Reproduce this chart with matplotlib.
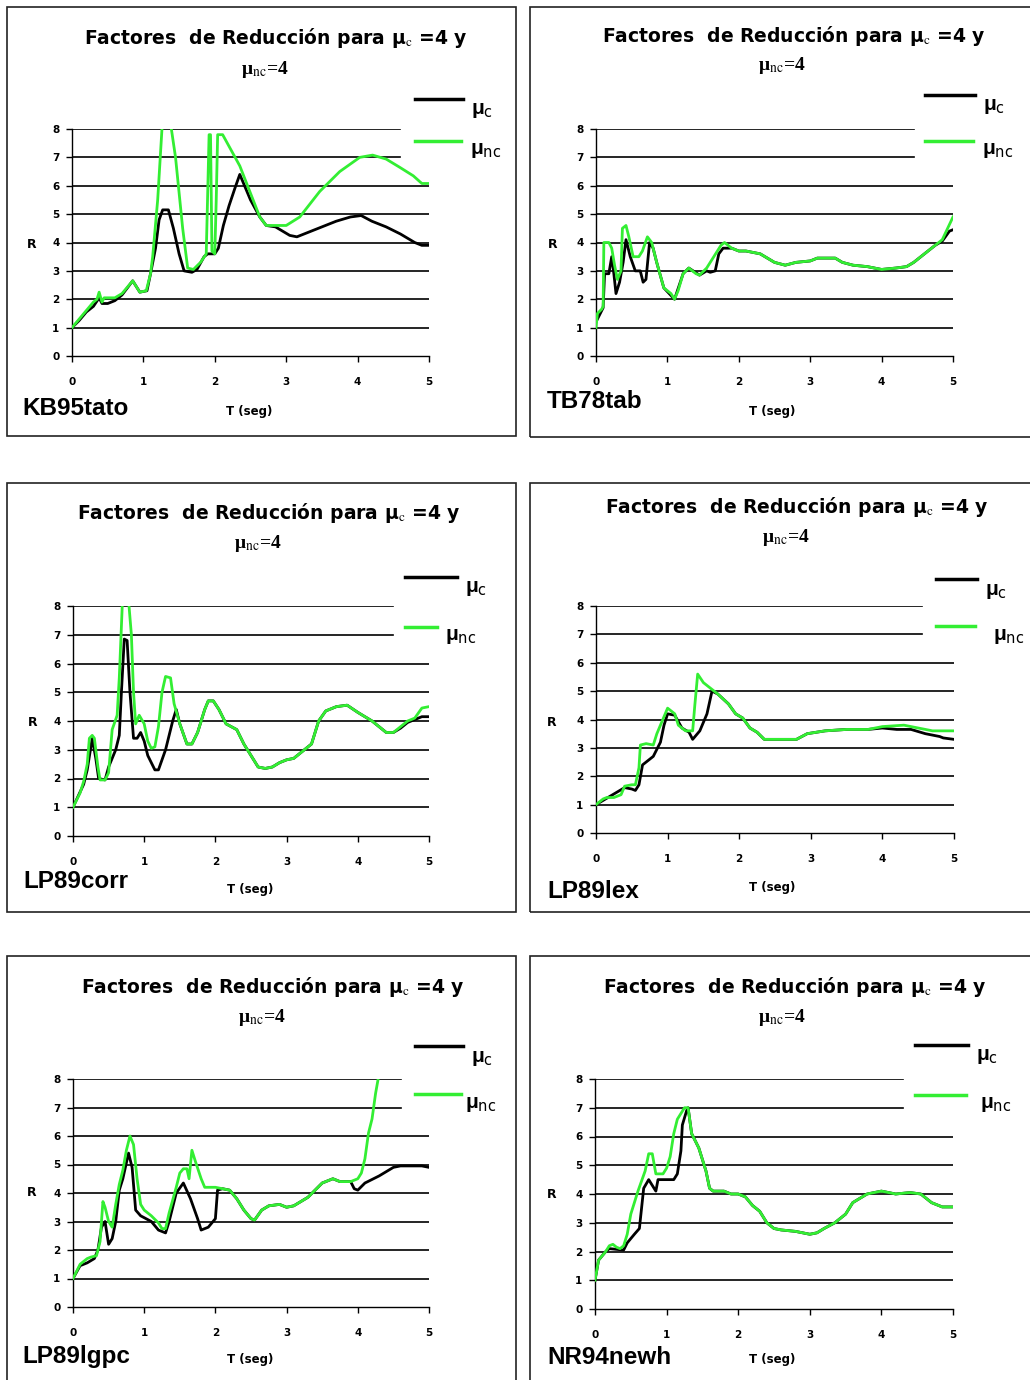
import matplotlib
matplotlib.use("Agg")
import matplotlib.pyplot as plt
from matplotlib.lines import Line2D
from matplotlib.patches import Rectangle

plt.rcParams['font.family'] = ['Liberation Sans', 'DejaVu Sans']

# ---------------- data (T in seg, R) ----------------
names = ['KB95tato', 'TB78tab', 'LP89corr', 'LP89lex', 'LP89lgpc', 'NR94newh']

# KB95tato
kb_t_nc = [0, 0.1, 0.2, 0.3, 0.35, 0.38, 0.42, 0.45, 0.6, 0.7, 0.85, 0.95, 1.04, 1.1, 1.13, 1.2, 1.26, 1.32,
           1.38, 1.45, 1.55, 1.62, 1.7, 1.8, 1.88, 1.92, 1.94, 1.96, 2.0, 2.02, 2.04, 2.11, 2.35, 2.63, 2.72,
           3.0, 3.19, 3.47, 3.75, 4.03, 4.21, 4.4, 4.59, 4.78, 4.9, 5.0]
kb_r_nc = [1, 1.3, 1.6, 1.9, 2.0, 2.25, 1.9, 2.05, 2.05, 2.2, 2.65, 2.25, 2.3, 2.9, 3.5, 5.5, 8.0, 9.0,
           8.2, 7.0, 4.5, 3.1, 3.05, 3.3, 3.6, 7.8, 7.8, 3.7, 3.6, 5.5, 7.8, 7.8, 6.7, 4.9, 4.6,
           4.6, 4.9, 5.8, 6.5, 7.0, 7.08, 6.94, 6.65, 6.35, 6.08, 6.08]
kb_t_c = [0, 0.1, 0.2, 0.3, 0.38, 0.42, 0.5, 0.6, 0.7, 0.85, 0.95, 1.05, 1.1, 1.17, 1.22, 1.27, 1.35, 1.42,
          1.5, 1.57, 1.68, 1.75, 1.85, 1.9, 2.0, 2.05, 2.12, 2.2, 2.28, 2.35, 2.5, 2.63, 2.72, 2.85, 2.95,
          3.05, 3.15, 3.3, 3.5, 3.7, 3.9, 4.05, 4.2, 4.4, 4.6, 4.8, 4.9, 5.0]
kb_r_c = [1, 1.25, 1.55, 1.75, 2.05, 1.85, 1.85, 1.95, 2.15, 2.65, 2.25, 2.3, 2.9, 3.8, 4.8, 5.15, 5.15, 4.5,
          3.6, 3.0, 2.95, 3.05, 3.5, 3.6, 3.6, 3.8, 4.6, 5.3, 5.9, 6.4, 5.5, 4.9, 4.6, 4.55, 4.4,
          4.25, 4.2, 4.35, 4.55, 4.75, 4.9, 4.95, 4.75, 4.55, 4.3, 4.0, 3.9, 3.9]

# TB78tab
tb_t_nc = [0, 0.02, 0.08, 0.1, 0.11, 0.18, 0.22, 0.26, 0.3, 0.35, 0.37, 0.42, 0.46, 0.52, 0.6, 0.65, 0.72,
           0.78, 0.85, 0.95, 1.05, 1.1, 1.15, 1.22, 1.3, 1.4, 1.45, 1.55, 1.65, 1.75, 1.8, 1.9, 2.0, 2.1,
           2.2, 2.3, 2.5, 2.65, 2.8, 3.0, 3.1, 3.35, 3.45, 3.6, 3.8, 4.0, 4.2, 4.35, 4.45, 4.6, 4.75,
           4.85, 5.0]
tb_r_nc = [1.0, 1.5, 1.65, 1.75, 4.0, 4.0, 3.8, 3.2, 2.7, 3.0, 4.5, 4.6, 4.2, 3.5, 3.5, 3.7, 4.2,
           4.0, 3.3, 2.4, 2.2, 2.0, 2.3, 2.9, 3.1, 2.9, 2.85, 3.1, 3.5, 3.9, 4.0, 3.8, 3.7, 3.7,
           3.65, 3.6, 3.3, 3.2, 3.3, 3.35, 3.45, 3.45, 3.3, 3.2, 3.15, 3.05, 3.1, 3.15, 3.3, 3.6, 3.9,
           4.1, 4.9]
tb_t_c = [0, 0.1, 0.12, 0.18, 0.22, 0.25, 0.28, 0.33, 0.38, 0.42, 0.48, 0.55, 0.62, 0.66, 0.7, 0.75, 0.8,
          0.85, 0.95, 1.1, 1.22, 1.3, 1.45, 1.55, 1.6, 1.67, 1.72, 1.78, 1.9, 2.0, 2.1, 2.2, 2.3, 2.5,
          2.65, 2.8, 3.0, 3.1, 3.35, 3.45, 3.6, 3.8, 4.0, 4.2, 4.35, 4.45, 4.6, 4.75, 4.85, 4.95, 5.0]
tb_r_c = [1.2, 1.7, 2.9, 2.9, 3.5, 2.9, 2.2, 2.6, 3.3, 4.1, 3.5, 3.0, 3.0, 2.6, 2.7, 4.0, 3.8,
          3.3, 2.4, 2.0, 2.9, 3.1, 2.85, 3.0, 2.95, 3.0, 3.6, 3.8, 3.8, 3.7, 3.7, 3.65, 3.6, 3.3,
          3.2, 3.3, 3.35, 3.45, 3.45, 3.3, 3.2, 3.15, 3.05, 3.1, 3.15, 3.3, 3.6, 3.9, 4.05, 4.4, 4.45]

# LP89corr
co_t_nc = [0, 0.1, 0.15, 0.2, 0.23, 0.27, 0.3, 0.35, 0.38, 0.45, 0.5, 0.55, 0.62, 0.65, 0.7, 0.76, 0.82,
           0.85, 0.88, 0.93, 1.0, 1.05, 1.1, 1.15, 1.2, 1.25, 1.3, 1.37, 1.42, 1.5, 1.6, 1.67, 1.75,
           1.85, 1.9, 1.97, 2.05, 2.15, 2.3, 2.4, 2.5, 2.6, 2.7, 2.8, 2.9, 3.0, 3.1, 3.2, 3.35, 3.45,
           3.55, 3.7, 3.85, 4.0, 4.2, 4.3, 4.4, 4.5, 4.6, 4.7, 4.8, 4.9, 5.0]
co_r_nc = [1.0, 1.5, 1.9, 2.5, 3.4, 3.5, 3.4, 2.4, 1.95, 1.95, 2.2, 3.7, 4.2, 5.5, 8.5, 8.8, 7.0,
           5.0, 3.9, 4.2, 3.9, 3.3, 3.05, 3.1, 3.8, 5.0, 5.55, 5.5, 4.6, 3.9, 3.2, 3.2, 3.6,
           4.4, 4.7, 4.7, 4.4, 3.9, 3.7, 3.2, 2.8, 2.4, 2.35, 2.4, 2.55, 2.65, 2.7, 2.9, 3.2, 4.0,
           4.35, 4.5, 4.55, 4.3, 4.0, 3.8, 3.6, 3.6, 3.8, 4.0, 4.1, 4.45, 4.5]
co_t_c = [0, 0.15, 0.2, 0.27, 0.32, 0.36, 0.45, 0.5, 0.6, 0.65, 0.68, 0.72, 0.76, 0.8, 0.85, 0.9, 0.95,
          1.0, 1.05, 1.15, 1.2, 1.3, 1.4, 1.45, 1.5, 1.6, 1.67, 1.75, 1.85, 1.9, 1.97, 2.05, 2.15, 2.3,
          2.4, 2.5, 2.6, 2.7, 2.8, 2.9, 3.0, 3.1, 3.2, 3.35, 3.45, 3.55, 3.7, 3.85, 4.0, 4.2, 4.3,
          4.4, 4.5, 4.6, 4.7, 4.8, 4.9, 5.0]
co_r_c = [1, 1.8, 2.3, 3.4, 2.7, 2.0, 1.95, 2.4, 3.0, 3.5, 5.0, 6.85, 6.8, 5.0, 3.4, 3.4, 3.6,
          3.3, 2.8, 2.3, 2.3, 3.0, 4.0, 4.4, 3.9, 3.2, 3.2, 3.6, 4.4, 4.7, 4.7, 4.4, 3.9, 3.7,
          3.2, 2.8, 2.4, 2.35, 2.4, 2.55, 2.65, 2.7, 2.9, 3.2, 4.0, 4.35, 4.5, 4.55, 4.3, 4.0, 3.8,
          3.6, 3.6, 3.75, 3.95, 4.05, 4.15, 4.15]

# LP89lex
lx_t_nc = [0, 0.1, 0.15, 0.25, 0.35, 0.4, 0.5, 0.55, 0.6, 0.62, 0.7, 0.8, 0.85, 0.95, 1.0, 1.05, 1.1,
           1.15, 1.25, 1.35, 1.38, 1.42, 1.5, 1.6, 1.7, 1.85, 1.95, 2.05, 2.15, 2.25, 2.35, 2.5, 2.8,
           2.95, 3.2, 3.5, 3.8, 4.0, 4.3, 4.5, 4.7, 5.0]
lx_r_nc = [1.0, 1.2, 1.25, 1.25, 1.35, 1.65, 1.7, 1.7, 2.3, 3.1, 3.15, 3.1, 3.5, 4.1, 4.4, 4.3, 4.2,
           3.8, 3.6, 3.6, 4.5, 5.6, 5.3, 5.1, 4.9, 4.55, 4.2, 4.05, 3.7, 3.55, 3.3, 3.3, 3.3,
           3.5, 3.6, 3.65, 3.65, 3.75, 3.8, 3.7, 3.6, 3.6]
lx_t_c = [0, 0.4, 0.5, 0.55, 0.6, 0.65, 0.75, 0.8, 0.9, 0.95, 1.0, 1.1, 1.2, 1.3, 1.35, 1.45, 1.55,
          1.62, 1.7, 1.85, 1.95, 2.05, 2.15, 2.25, 2.35, 2.5, 2.8, 2.95, 3.2, 3.5, 3.8, 4.0, 4.2,
          4.4, 4.6, 4.8, 4.85, 5.0]
lx_r_c = [1, 1.6, 1.55, 1.5, 1.7, 2.4, 2.6, 2.7, 3.2, 3.8, 4.2, 4.15, 3.7, 3.55, 3.3, 3.6, 4.2,
          5.0, 4.9, 4.55, 4.2, 4.05, 3.7, 3.55, 3.3, 3.3, 3.3, 3.5, 3.6, 3.65, 3.65, 3.7, 3.65,
          3.65, 3.5, 3.4, 3.35, 3.3]

# LP89lgpc
lg_t_nc = [0, 0.1, 0.2, 0.25, 0.33, 0.38, 0.42, 0.45, 0.5, 0.55, 0.6, 0.65, 0.7, 0.75, 0.8, 0.85, 0.9,
           0.95, 1.0, 1.1, 1.2, 1.25, 1.3, 1.35, 1.45, 1.5, 1.55, 1.6, 1.63, 1.67, 1.72, 1.8, 1.85,
           2.0, 2.1, 2.2, 2.3, 2.4, 2.5, 2.55, 2.65, 2.75, 2.9, 3.0, 3.1, 3.2, 3.3, 3.4, 3.5, 3.65,
           3.75, 3.9, 4.0, 4.05, 4.1, 4.15, 4.2, 4.25, 4.3]
lg_r_nc = [1, 1.5, 1.7, 1.75, 1.8, 2.3, 3.7, 3.5, 3.0, 2.8, 3.6, 4.3, 4.8, 5.5, 6.0, 5.7, 4.5,
           3.6, 3.4, 3.2, 2.95, 2.75, 2.75, 3.3, 4.2, 4.7, 4.85, 4.85, 4.5, 5.5, 5.1, 4.5, 4.2,
           4.2, 4.15, 4.1, 3.8, 3.4, 3.1, 3.05, 3.4, 3.55, 3.6, 3.5, 3.55, 3.7, 3.85, 4.1, 4.35, 4.5,
           4.4, 4.4, 4.5, 4.7, 5.2, 6.1, 6.6, 7.5, 8.2]
lg_t_c = [0, 0.1, 0.2, 0.3, 0.35, 0.4, 0.45, 0.5, 0.55, 0.6, 0.65, 0.7, 0.78, 0.83, 0.88, 0.95, 1.1,
          1.2, 1.3, 1.35, 1.45, 1.55, 1.65, 1.75, 1.8, 1.9, 2.0, 2.03, 2.1, 2.2, 2.3, 2.4, 2.5, 2.55,
          2.65, 2.75, 2.9, 3.0, 3.1, 3.2, 3.3, 3.4, 3.5, 3.65, 3.75, 3.9, 3.95, 4.0, 4.1, 4.3, 4.5,
          4.6, 4.9, 5.0]
lg_r_c = [1, 1.45, 1.55, 1.7, 2.0, 2.8, 3.0, 2.2, 2.4, 3.0, 4.1, 4.5, 5.4, 4.9, 3.4, 3.2, 3.0,
          2.7, 2.6, 3.0, 4.0, 4.35, 3.8, 3.1, 2.7, 2.8, 3.1, 4.1, 4.15, 4.1, 3.8, 3.4, 3.1, 3.05,
          3.4, 3.55, 3.6, 3.5, 3.55, 3.7, 3.85, 4.1, 4.35, 4.5, 4.4, 4.4, 4.15, 4.1, 4.35, 4.6, 4.9,
          4.95, 4.95, 4.9]

# NR94newh
nr_t_nc = [0, 0.05, 0.15, 0.2, 0.25, 0.3, 0.35, 0.4, 0.45, 0.5, 0.55, 0.6, 0.7, 0.75, 0.8, 0.85, 0.95,
           1.0, 1.05, 1.1, 1.15, 1.25, 1.3, 1.35, 1.45, 1.55, 1.6, 1.65, 1.8, 1.9, 2.0, 2.1, 2.2, 2.3,
           2.4, 2.5, 2.6, 2.8, 2.9, 3.0, 3.1, 3.2, 3.35, 3.5, 3.6, 3.8, 4.0, 4.2, 4.4, 4.55, 4.7,
           4.85, 5.0]
nr_r_nc = [1, 1.7, 2.0, 2.2, 2.25, 2.15, 2.1, 2.2, 2.6, 3.3, 3.7, 4.1, 4.8, 5.4, 5.4, 4.7, 4.7,
           4.9, 5.3, 6.1, 6.6, 7.0, 7.0, 6.1, 5.6, 4.8, 4.2, 4.1, 4.1, 4.0, 4.0, 3.9, 3.6, 3.4,
           3.0, 2.8, 2.75, 2.7, 2.65, 2.6, 2.65, 2.8, 3.0, 3.3, 3.7, 4.0, 4.1, 4.0, 4.05, 4.0, 3.7,
           3.55, 3.55]
nr_t_c = [0, 0.05, 0.15, 0.2, 0.4, 0.45, 0.55, 0.62, 0.65, 0.68, 0.75, 0.8, 0.85, 0.88, 1.0, 1.1, 1.15,
          1.2, 1.22, 1.28, 1.3, 1.35, 1.45, 1.55, 1.6, 1.65, 1.8, 1.9, 2.0, 2.1, 2.2, 2.3, 2.4, 2.5,
          2.6, 2.8, 2.9, 3.0, 3.1, 3.2, 3.35, 3.5, 3.6, 3.8, 4.0, 4.2, 4.4, 4.55, 4.7, 4.85, 5.0]
nr_r_c = [1, 1.7, 2.0, 2.1, 2.05, 2.3, 2.6, 2.8, 3.5, 4.2, 4.5, 4.3, 4.1, 4.5, 4.5, 4.5, 4.7,
          5.5, 6.4, 6.9, 7.0, 6.1, 5.6, 4.8, 4.2, 4.1, 4.1, 4.0, 4.0, 3.9, 3.6, 3.4, 3.0, 2.8,
          2.75, 2.7, 2.65, 2.6, 2.65, 2.8, 3.0, 3.3, 3.7, 4.0, 4.1, 4.0, 4.05, 4.0, 3.7, 3.55, 3.55]

series = [(kb_t_c, kb_r_c, kb_t_nc, kb_r_nc),
          (tb_t_c, tb_r_c, tb_t_nc, tb_r_nc),
          (co_t_c, co_r_c, co_t_nc, co_r_nc),
          (lx_t_c, lx_r_c, lx_t_nc, lx_r_nc),
          (lg_t_c, lg_r_c, lg_t_nc, lg_r_nc),
          (nr_t_c, nr_r_c, nr_t_nc, nr_r_nc)]

# ---------------- layout (pixels, top-left origin) ----------------
W, H = 1030, 1380
GREEN = '#33ee33'

# panel frames: left, top, right, bottom
frames = [(7, 7, 516, 436), (530, 7, 1040, 437),
          (7, 483, 516, 912), (530, 483, 1040, 912),
          (7, 956, 516, 1390), (530, 956, 1040, 1390)]
# axes boxes: x0, x1, y(8), y(0)
boxes = [(72, 429, 129, 356), (596, 953, 129, 356),
         (73, 429, 606, 836), (596, 954, 606, 833),
         (73, 429, 1079, 1307), (595, 953, 1079, 1309)]
# fraction of width for the shorter gridlines at 7 and 8
short_grid = [0.92, 0.89, 0.90, 0.91, 0.92, 0.86]
# title line centres
title1 = [(276, 38), (794, 36), (269, 513), (797, 507), (273, 987), (795, 987)]
title2 = [(265, 70), (782, 66), (258, 543), (786, 537), (262, 1017), (782, 1017)]
# legend: line x0, x1, black y, green y, label x
legends = [(415, 463, 99, 141, 470), (925, 975, 95, 141, 982),
           (405, 457, 577, 627, 445), (936, 977, 579, 626, 993),
           (415, 463, 1046, 1094, 465), (915, 968, 1045, 1095, 980)]
name_pos = [(22, 408), (547, 402), (23, 882), (547, 892), (22, 1357), (547, 1357)]
tlab_pos = [(249, 412), (772, 412), (250, 889), (772, 888), (250, 1360), (772, 1360)]
rlab_pos = [(32, 245), (553, 245), (33, 723), (552, 722), (32, 1193), (552, 1195)]


def fx(x):
    return x / W


def fy(y):
    return 1 - y / H


fig = plt.figure(figsize=(W / 100, H / 100), dpi=100)

for i in range(6):
    l, t, r, b = frames[i]
    fig.add_artist(Rectangle((fx(l), fy(b)), fx(r) - fx(l), fy(t) - fy(b),
                             transform=fig.transFigure, fill=False,
                             edgecolor='#222222', linewidth=1.2))

    x0, x1, y8, y0 = boxes[i]
    ax = fig.add_axes([fx(x0), fy(y0), fx(x1) - fx(x0), fy(y8) - fy(y0)])
    ax.set_xlim(0, 5)
    ax.set_ylim(0, 8)
    ax.patch.set_alpha(0)
    for s in ['top', 'right']:
        ax.spines[s].set_visible(False)
    ax.spines['left'].set_linewidth(1.0)
    ax.spines['bottom'].set_linewidth(1.0)
    for g in range(1, 9):
        xm = short_grid[i] if g >= 7 else 1.0
        ax.axhline(g, xmin=0, xmax=xm, color='black', linewidth=1.2, zorder=1)

    tc, rc, tnc, rnc = series[i]
    ax.plot(tc, rc, color='black', linewidth=2.0, zorder=3)
    ax.plot(tnc, rnc, color=GREEN, linewidth=2.0, zorder=4)

    ax.set_xticks(range(0, 6))
    ax.set_yticks(range(0, 9))
    ax.tick_params(axis='both', direction='out', length=4, width=1.0, labelsize=7.5)
    ax.tick_params(axis='x', pad=11)
    ax.tick_params(axis='y', pad=5)
    for lab in ax.get_xticklabels() + ax.get_yticklabels():
        lab.set_fontweight('bold')
        lab.set_family('DejaVu Sans')

    # titles
    fig.text(fx(title1[i][0]), fy(title1[i][1]), r'Factores  de Reducción para μ$_{\rm c}$ =4 y',
             ha='center', va='center', fontsize=13.5, fontweight='bold', family='DejaVu Sans',
             math_fontfamily='stix')
    fig.text(fx(title2[i][0]), fy(title2[i][1]), r'μ$_{\rm nc}$=4', ha='center', va='center',
             fontsize=14, fontweight='bold', family='Liberation Serif', math_fontfamily='stix')

    # legend
    lx0, lx1, yb, yg, tx = legends[i]
    fig.add_artist(Line2D([fx(lx0), fx(lx1)], [fy(yb), fy(yb)], transform=fig.transFigure,
                          color='black', linewidth=2.5))
    fig.add_artist(Line2D([fx(lx0), fx(lx1 - (20 if i == 2 else 2))], [fy(yg), fy(yg)],
                          transform=fig.transFigure, color=GREEN, linewidth=2.5))
    fig.text(fx(lx1 + 8), fy(yb + 12), r'μ$_{\rm c}$', ha='left', va='center',
             fontsize=15, fontweight='bold', math_fontfamily='dejavusans')
    fig.text(fx(tx), fy(yg + 10), r'μ$_{\rm nc}$', ha='left', va='center',
             fontsize=15, fontweight='bold', math_fontfamily='dejavusans')

    # labels
    fig.text(fx(name_pos[i][0]), fy(name_pos[i][1]), names[i], ha='left', va='center',
             fontsize=17.5, fontweight='bold')
    fig.text(fx(tlab_pos[i][0]), fy(tlab_pos[i][1]), 'T (seg)', ha='center', va='center',
             fontsize=8.5, fontweight='bold', family='DejaVu Sans')
    fig.text(fx(rlab_pos[i][0]), fy(rlab_pos[i][1]), 'R', ha='center', va='center',
             fontsize=9, fontweight='bold', family='DejaVu Sans')

fig.savefig('out.png', dpi=100)
